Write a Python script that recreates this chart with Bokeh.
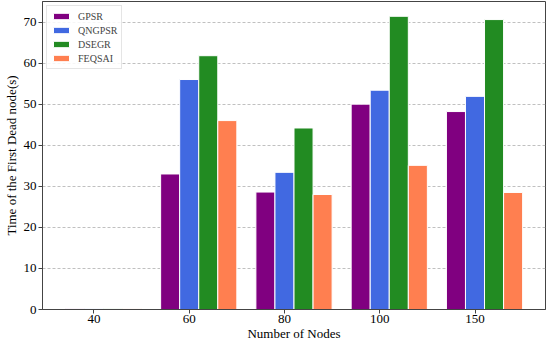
from bokeh.plotting import figure
from bokeh.models import ColumnDataSource, FixedTicker, Range1d, Legend, LegendItem
from bokeh.transform import dodge
from bokeh.embed import file_html
from bokeh.resources import INLINE

categories = ["40", "60", "80", "100", "150"]
gpsr = [0.2, 33.0, 28.6, 50.0, 48.2]
qngpsr = [0.2, 56.0, 33.4, 53.4, 51.9]
dsegr = [0.2, 61.8, 44.2, 71.4, 70.6]
feqsai = [0.2, 46.0, 28.0, 35.1, 28.5]
y_ticks = [0, 10, 20, 30, 40, 50, 60, 70]

series = [("GPSR", gpsr, "#800080", -0.2),
          ("QNGPSR", qngpsr, "#4169E1", 0.0),
          ("DSEGR", dsegr, "#228B22", 0.2),
          ("FEQSAI", feqsai, "#FF7F50", 0.4)]

FONT = "Liberation Serif"

src = ColumnDataSource(dict(x=list(range(len(categories))), GPSR=gpsr, QNGPSR=qngpsr,
                            DSEGR=dsegr, FEQSAI=feqsai))

p = figure(frame_width=503, frame_height=308, output_backend="svg", toolbar_location=None,
           x_range=Range1d(-0.54, 4.74), y_range=Range1d(0, 75),
           min_border_left=31, min_border_right=1, min_border_top=1, min_border_bottom=20)

items = []
for name, vals, color, off in series:
    r = p.vbar(x=dodge("x", off), top=name, width=0.2, source=src,
               fill_color=color, line_color="white", line_width=1)
    items.append(LegendItem(label=name, renderers=[r]))

p.xaxis.ticker = FixedTicker(ticks=list(range(len(categories))))
p.xaxis.major_label_overrides = {i: c for i, c in enumerate(categories)}
p.yaxis.ticker = FixedTicker(ticks=y_ticks)
p.xaxis.axis_label = "Number of Nodes"
p.yaxis.axis_label = "Time of the First Dead node(s)"

for ax in (p.xaxis[0], p.yaxis[0]):
    ax.axis_label_text_font = FONT
    ax.axis_label_text_font_style = "normal"
    ax.axis_label_text_font_size = "13px"
    ax.axis_label_text_color = "black"
    ax.major_label_text_font = FONT
    ax.major_label_text_font_size = "13px"
    ax.major_label_text_color = "black"
    ax.major_tick_in = 0
    ax.major_tick_out = 4
    ax.minor_tick_in = 0
    ax.minor_tick_out = 0
    ax.axis_line_color = "#444444"
    ax.major_tick_line_color = "#444444"

p.xaxis.major_label_standoff = 1
p.xaxis.axis_label_standoff = 0
p.yaxis.major_label_standoff = 2
p.yaxis.axis_label_standoff = 2

p.xgrid.grid_line_color = None
p.ygrid.grid_line_color = "#b0b0b0"
p.ygrid.grid_line_dash = "3 2"
p.ygrid.grid_line_width = 0.8
p.outline_line_color = "#444444"
p.outline_line_width = 1

legend = Legend(items=items, location="top_left",
                label_text_font=FONT, label_text_font_size="10px",
                glyph_width=20, glyph_height=8, label_height=12, label_standoff=7,
                spacing=2, padding=4, margin=4,
                border_line_color="#cccccc", background_fill_alpha=0.85)
p.add_layout(legend)

open("out.html", "w").write(file_html(p, INLINE))
